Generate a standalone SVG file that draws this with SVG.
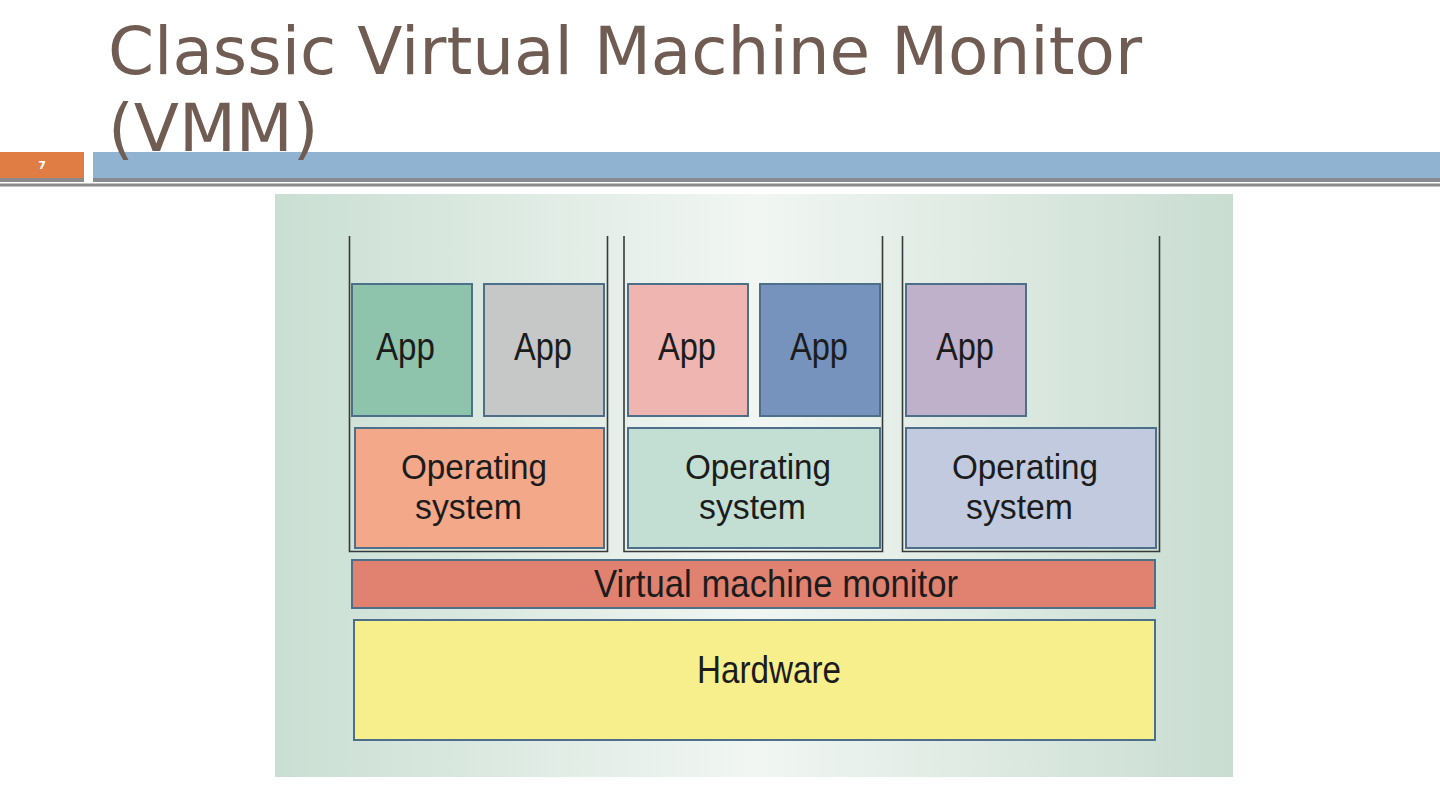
<svg xmlns="http://www.w3.org/2000/svg" width="1440" height="810" viewBox="0 0 1440 810">
<defs>
<linearGradient id="bg" x1="0" y1="0" x2="1" y2="0">
<stop offset="0" stop-color="#cadfd3"/>
<stop offset="0.5" stop-color="#f1f6f2"/>
<stop offset="1" stop-color="#c9ddd1"/>
</linearGradient>
<style>
.title{font-family:"DejaVu Sans",sans-serif;font-size:66px;fill:#705c52}
.box{stroke:#4d6f8a;stroke-width:2}
.lbl{font-family:"Liberation Sans Narrow","Liberation Sans",sans-serif;fill:#1c1c1c}
.app{font-size:39px}
.os{font-size:35px}
.bar{font-size:39px}
.vm{fill:none;stroke:#363b3a;stroke-width:1.6}
</style>
</defs>
<rect width="1440" height="810" fill="#ffffff"/>
<g id="header">
<rect x="0" y="152" width="84" height="26" fill="#e07d45"/>
<rect x="0" y="178" width="84" height="4" fill="#8a8a8a"/>
<rect x="93" y="152" width="1347" height="26" fill="#91b3d2"/>
<rect x="93" y="178" width="1347" height="4" fill="#878a8f"/>
<rect x="0" y="183.5" width="1440" height="3" fill="#8a8a8a"/>
<text x="42" y="169" text-anchor="middle" font-family="DejaVu Sans,sans-serif" font-size="11" font-weight="bold" fill="#ffffff">7</text>
</g>
<g id="title">
<text class="title" x="108" y="74">Classic Virtual Machine Monitor</text>
<text class="title" x="108" y="151">(VMM)</text>
</g>
<g id="figure">
<rect x="275" y="194" width="958" height="583" fill="url(#bg)"/>
</g>
<g id="vm1">
<path class="vm" d="M349.5 236 V551.5 H607.5 V236"/>
</g>
<g id="vm2">
<path class="vm" d="M624 236 V551.5 H882.5 V236"/>
</g>
<g id="vm3">
<path class="vm" d="M902.5 236 V551.5 H1159.5 V236"/>
</g>
<g id="app1">
<rect class="box" x="352" y="284" width="120" height="132" fill="#8fc4ac"/>
<text class="lbl app" x="376" y="360" textLength="59" lengthAdjust="spacingAndGlyphs">App</text>
</g>
<g id="app2">
<rect class="box" x="484" y="284" width="120" height="132" fill="#c5c8c6"/>
<text class="lbl app" x="514" y="360" textLength="58" lengthAdjust="spacingAndGlyphs">App</text>
</g>
<g id="app3">
<rect class="box" x="628" y="284" width="120" height="132" fill="#efb5b1"/>
<text class="lbl app" x="658" y="360" textLength="58" lengthAdjust="spacingAndGlyphs">App</text>
</g>
<g id="app4">
<rect class="box" x="760" y="284" width="120" height="132" fill="#7593bc"/>
<text class="lbl app" x="790" y="360" textLength="58" lengthAdjust="spacingAndGlyphs">App</text>
</g>
<g id="app5">
<rect class="box" x="906" y="284" width="120" height="132" fill="#c0b1cb"/>
<text class="lbl app" x="936" y="360" textLength="58" lengthAdjust="spacingAndGlyphs">App</text>
</g>
<g id="os1">
<rect class="box" x="355" y="428" width="249" height="120" fill="#f2a889"/>
<text class="lbl os" x="401" y="479" textLength="146" lengthAdjust="spacingAndGlyphs">Operating</text>
<text class="lbl os" x="415" y="519" textLength="107" lengthAdjust="spacingAndGlyphs">system</text>
</g>
<g id="os2">
<rect class="box" x="628" y="428" width="252" height="120" fill="#c3dfd3"/>
<text class="lbl os" x="685" y="479" textLength="146" lengthAdjust="spacingAndGlyphs">Operating</text>
<text class="lbl os" x="699" y="519" textLength="107" lengthAdjust="spacingAndGlyphs">system</text>
</g>
<g id="os3">
<rect class="box" x="906" y="428" width="250" height="120" fill="#c1cadf"/>
<text class="lbl os" x="952" y="479" textLength="146" lengthAdjust="spacingAndGlyphs">Operating</text>
<text class="lbl os" x="966" y="519" textLength="107" lengthAdjust="spacingAndGlyphs">system</text>
</g>
<g id="vmm">
<rect class="box" x="352" y="560" width="803" height="48" fill="#e0826f"/>
<text class="lbl bar" x="594" y="597" textLength="364" lengthAdjust="spacingAndGlyphs">Virtual machine monitor</text>
</g>
<g id="hardware">
<rect class="box" x="354" y="620" width="801" height="120" fill="#f7ef8c"/>
<text class="lbl bar" x="697" y="683" textLength="144" lengthAdjust="spacingAndGlyphs">Hardware</text>
</g>
<g id="connectors"></g>
</svg>
